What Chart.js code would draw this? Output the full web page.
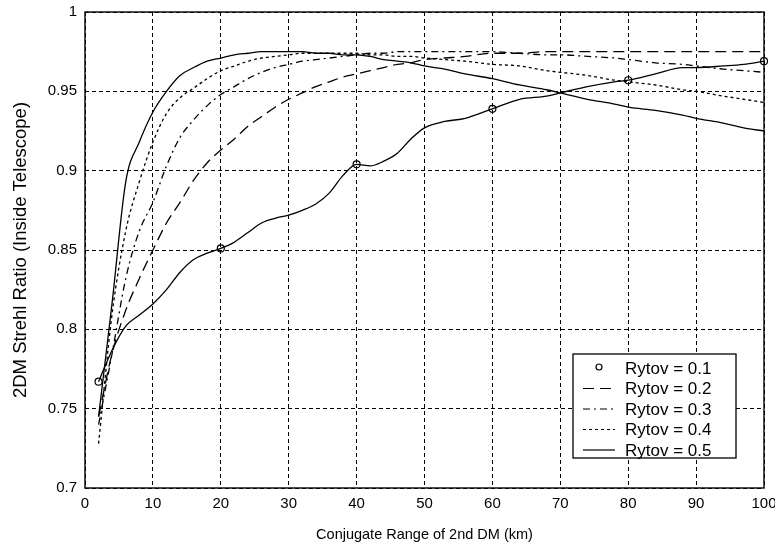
<!DOCTYPE html>
<html>
<head>
<meta charset="utf-8">
<script src="https://cdn.jsdelivr.net/npm/chart.js@4/dist/chart.umd.min.js"></script>
<style>
  html, body { margin: 0; padding: 0; background: #fff; }
  #wrap { width: 775px; height: 544px; position: relative; }
</style>
</head>
<body>
<div id="wrap"><canvas id="strehlChart"></canvas></div>
<script>
// conjugate range of the 2nd DM, km
const xKm = [2, 4, 6, 8, 10, 12, 14, 16, 18, 20, 22, 24, 26, 28, 30, 32, 34, 36, 38, 40,
             42, 44, 46, 48, 50, 53, 56, 60, 64, 68, 70, 74, 78, 80, 84, 88, 90, 94, 97, 100];

// 2DM Strehl ratio inside the telescope, one array per Rytov number
const rytov01 = [0.767, 0.787, 0.802, 0.809, 0.816, 0.825, 0.836, 0.844, 0.848, 0.851,
                 0.855, 0.861, 0.867, 0.870, 0.872, 0.875, 0.879, 0.886, 0.897, 0.904,
                 0.903, 0.906, 0.911, 0.920, 0.927, 0.931, 0.933, 0.939, 0.945, 0.947,
                 0.949, 0.953, 0.956, 0.957, 0.961, 0.965, 0.965, 0.966, 0.967, 0.969];
const rytov02 = [0.745, 0.785, 0.812, 0.832, 0.850, 0.867, 0.880, 0.894, 0.905, 0.913,
                 0.920, 0.928, 0.934, 0.940, 0.945, 0.949, 0.953, 0.956, 0.959, 0.961,
                 0.963, 0.965, 0.967, 0.968, 0.970, 0.971, 0.972, 0.974, 0.974, 0.975,
                 0.975, 0.975, 0.975, 0.975, 0.975, 0.975, 0.975, 0.975, 0.975, 0.975];
const rytov03 = [0.740, 0.785, 0.832, 0.862, 0.880, 0.903, 0.921, 0.932, 0.941, 0.948,
                 0.953, 0.958, 0.962, 0.965, 0.967, 0.969, 0.970, 0.971, 0.972, 0.973,
                 0.974, 0.974, 0.975, 0.975, 0.975, 0.975, 0.975, 0.975, 0.974, 0.973,
                 0.973, 0.972, 0.971, 0.970, 0.968, 0.967, 0.966, 0.964, 0.963, 0.962];
const rytov04 = [0.728, 0.810, 0.862, 0.893, 0.918, 0.936, 0.946, 0.952, 0.958, 0.963,
                 0.966, 0.969, 0.971, 0.972, 0.973, 0.974, 0.974, 0.974, 0.974, 0.974,
                 0.973, 0.973, 0.972, 0.972, 0.971, 0.970, 0.969, 0.967, 0.966, 0.963,
                 0.962, 0.960, 0.957, 0.956, 0.954, 0.951, 0.950, 0.947, 0.945, 0.943];
const rytov05 = [0.745, 0.817, 0.893, 0.918, 0.937, 0.950, 0.960, 0.965, 0.969, 0.971,
                 0.973, 0.974, 0.975, 0.975, 0.975, 0.975, 0.974, 0.974, 0.973, 0.973,
                 0.972, 0.970, 0.969, 0.968, 0.966, 0.964, 0.961, 0.958, 0.954, 0.951,
                 0.949, 0.945, 0.942, 0.940, 0.938, 0.935, 0.933, 0.930, 0.927, 0.925];

// ranges where the Rytov 0.1 curve carries a circle
const markerKm = [2, 20, 40, 60, 80, 100];

const xTicks = [0, 10, 20, 30, 40, 50, 60, 70, 80, 90, 100];
const yTicks = [0.7, 0.75, 0.8, 0.85, 0.9, 0.95, 1];

const FONT = '"Liberation Sans", Arial, Helvetica, sans-serif';

const pts = ys => xKm.map((x, i) => ({ x, y: ys[i] }));

function series(label, ys, dash) {
  return {
    label,
    data: pts(ys),
    borderColor: '#000',
    borderWidth: 1.3,
    borderDash: dash,
    pointRadius: 0,
    fill: false,
    cubicInterpolationMode: 'monotone',
  };
}

const datasets = [
  Object.assign(series('Rytov = 0.1', rytov01, []), {
    markerOnlyInLegend: true,
    pointRadius: ctx => markerKm.includes(xKm[ctx.dataIndex]) ? 3.5 : 0,
    pointBackgroundColor: 'rgba(0,0,0,0)',
    pointBorderColor: '#000',
    pointBorderWidth: 1.2,
    clip: 6,
  }),
  series('Rytov = 0.2', rytov02, [11, 6]),
  series('Rytov = 0.3', rytov03, [7, 4, 2, 4]),
  series('Rytov = 0.4', rytov04, [3, 3]),
  series('Rytov = 0.5', rytov05, []),
];

// solid box round the plot area
const plotFrame = {
  id: 'plotFrame',
  afterDatasetsDraw(chart) {
    const { ctx, chartArea: a } = chart;
    ctx.save();
    ctx.strokeStyle = '#000';
    ctx.lineWidth = 1.4;
    ctx.setLineDash([]);
    ctx.strokeRect(a.left, a.top, a.right - a.left, a.bottom - a.top);
    ctx.restore();
  }
};

// boxed legend in the lower right corner of the plot
const insetLegend = {
  id: 'insetLegend',
  afterDraw(chart) {
    const { ctx, chartArea: a } = chart;
    const w = 163, h = 104;
    const x0 = a.right - 28 - w, y0 = a.bottom - 30 - h;
    ctx.save();
    ctx.fillStyle = '#fff';
    ctx.fillRect(x0, y0, w, h);
    ctx.strokeStyle = '#000';
    ctx.lineWidth = 1.3;
    ctx.strokeRect(x0, y0, w, h);
    ctx.font = '17px ' + FONT;
    ctx.textBaseline = 'middle';
    ctx.fillStyle = '#000';
    chart.data.datasets.forEach((ds, i) => {
      const y = y0 + 14 + i * 20.5;
      ctx.lineWidth = 1.2;
      if (ds.markerOnlyInLegend) {
        ctx.setLineDash([]);
        ctx.beginPath();
        ctx.arc(x0 + 26, y - 1, 3, 0, Math.PI * 2);
        ctx.stroke();
      } else {
        ctx.setLineDash(ds.borderDash || []);
        ctx.beginPath();
        ctx.moveTo(x0 + 10, y);
        ctx.lineTo(x0 + 42, y);
        ctx.stroke();
      }
      ctx.setLineDash([]);
      ctx.fillText(ds.label, x0 + 52, y + 1);
    });
    ctx.restore();
  }
};

new Chart(document.getElementById('strehlChart'), {
  type: 'line',
  data: { datasets },
  plugins: [plotFrame, insetLegend],
  options: {
    responsive: true,
    maintainAspectRatio: false,
    animation: false,
    events: [],
    layout: { padding: { top: 12, right: 11, left: 0, bottom: 0 } },
    plugins: { legend: { display: false }, tooltip: { enabled: false } },
    scales: {
      x: {
        type: 'linear',
        min: 0,
        max: 100,
        afterBuildTicks: s => { s.ticks = xTicks.map(v => ({ value: v })); },
        afterFit: s => { s.height = 56; s.paddingLeft = 0; s.paddingRight = 0; },
        ticks: { color: '#000', padding: 7, font: { family: FONT, size: 15 }, callback: v => String(v), maxRotation: 0 },
        grid: { color: '#000', lineWidth: 1, drawTicks: false },
        border: { display: false, dash: [4, 3] },
        title: {
          display: true,
          text: 'Conjugate Range of 2nd DM (km)',
          color: '#000',
          font: { family: FONT, size: 14.5 },
          padding: { top: 8, bottom: 0 },
        },
      },
      y: {
        type: 'linear',
        min: 0.7,
        max: 1,
        afterBuildTicks: s => { s.ticks = yTicks.map(v => ({ value: v })); },
        afterFit: s => { s.width = 85; s.paddingTop = 0; s.paddingBottom = 0; },
        ticks: { color: '#000', padding: 8, font: { family: FONT, size: 15 }, callback: v => String(v) },
        grid: { color: '#000', lineWidth: 1, drawTicks: false },
        border: { display: false, dash: [4, 3] },
        title: {
          display: true,
          text: '2DM Strehl Ratio (Inside Telescope)',
          color: '#000',
          font: { family: FONT, size: 18.5 },
          padding: { top: 10, bottom: 0 },
        },
      },
    },
  },
});
</script>
</body>
</html>
